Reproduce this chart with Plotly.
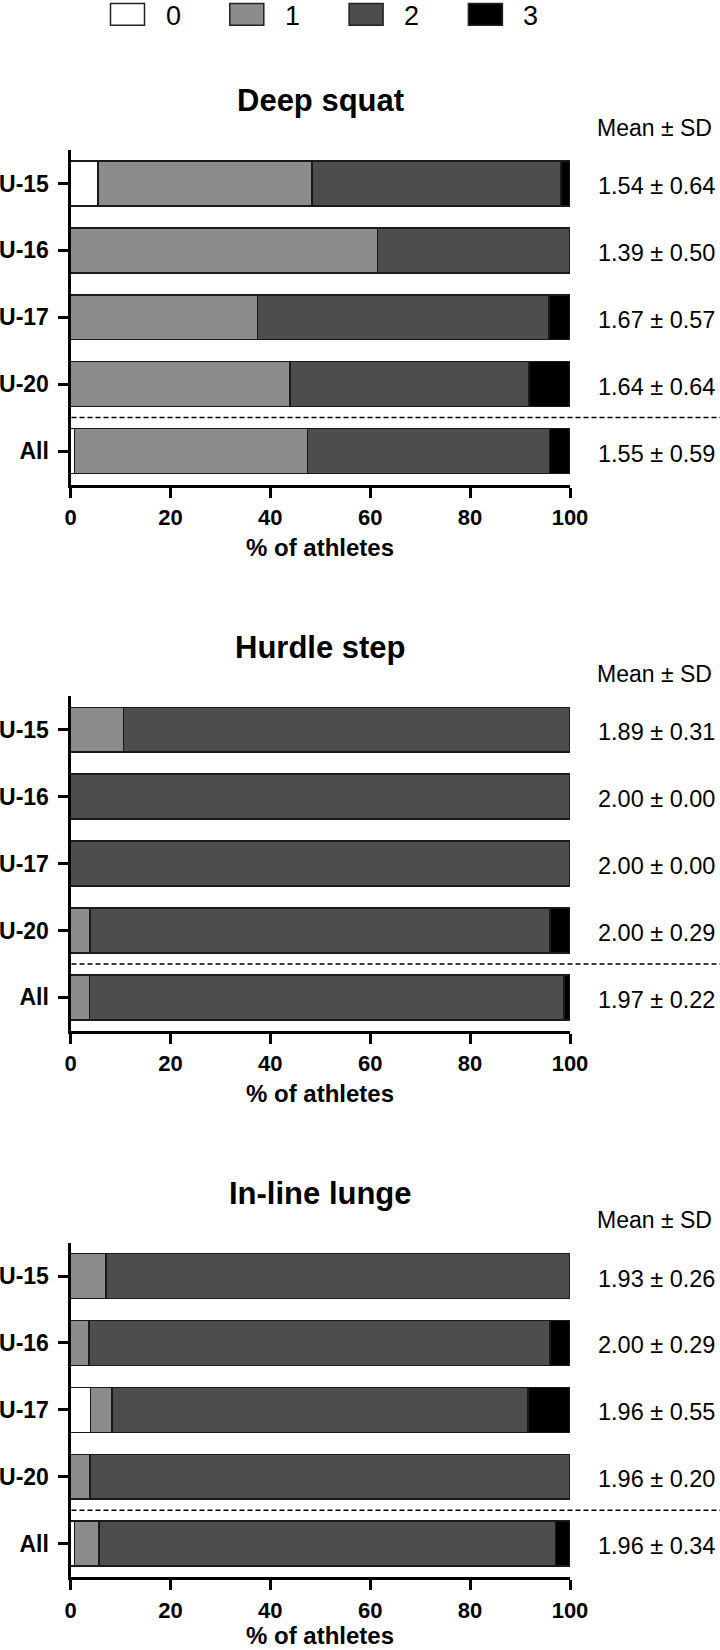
import plotly.graph_objects as go

# ---------------- data ----------------
groups = ["U-15", "U-16", "U-17", "U-20", "All"]
scores = ["0", "1", "2", "3"]
panel_titles = ["Deep squat", "Hurdle step", "In-line lunge"]

# % of athletes per score (0,1,2,3) for each group
deep_s0 = [5.5, 0, 0, 0, 0.8]
deep_s1 = [42.8, 61.5, 37.4, 43.9, 46.6]
deep_s2 = [49.9, 38.5, 58.4, 47.9, 48.5]
deep_s3 = [1.8, 0, 4.2, 8.2, 4.1]
deep_mean = [1.54, 1.39, 1.67, 1.64, 1.55]
deep_sd = [0.64, 0.50, 0.57, 0.64, 0.59]

hurdle_s0 = [0, 0, 0, 0, 0]
hurdle_s1 = [10.6, 0, 0, 3.9, 3.8]
hurdle_s2 = [89.4, 100, 100, 92.1, 95.0]
hurdle_s3 = [0, 0, 0, 4.0, 1.2]
hurdle_mean = [1.89, 2.00, 2.00, 2.00, 1.97]
hurdle_sd = [0.31, 0.00, 0.00, 0.29, 0.22]

lunge_s0 = [0, 0, 4.0, 0, 0.8]
lunge_s1 = [7.1, 3.7, 4.3, 3.9, 4.9]
lunge_s2 = [92.9, 92.3, 83.3, 96.1, 91.4]
lunge_s3 = [0, 4.0, 8.4, 0, 2.9]
lunge_mean = [1.93, 2.00, 1.96, 1.96, 1.96]
lunge_sd = [0.26, 0.29, 0.55, 0.20, 0.34]

x_ticks = [0, 20, 40, 60, 80, 100]

# ---------------- style ----------------
W, H = 720, 1650
FONT = "Liberation Sans, Arial, sans-serif"
colors = ["#ffffff", "#8c8c8c", "#4d4d4d", "#000000"]
outline = "#1a1a1a"

panels = [
    dict(title=panel_titles[0], series=[deep_s0, deep_s1, deep_s2, deep_s3], mean=deep_mean, sd=deep_sd),
    dict(title=panel_titles[1], series=[hurdle_s0, hurdle_s1, hurdle_s2, hurdle_s3], mean=hurdle_mean, sd=hurdle_sd),
    dict(title=panel_titles[2], series=[lunge_s0, lunge_s1, lunge_s2, lunge_s3], mean=lunge_mean, sd=lunge_sd),
]

PANEL_STEP = 546.3     # px between panels
AX_TOP = 150.0         # px, top of first y axis domain
AX_BOT = 484.5         # px, bottom of first y axis domain
X_LEFT, X_RIGHT = 70.5, 570.0

def py(px):
    return 1 - px / H

def pxx(px):
    return px / W

fig = go.Figure()
annotations = []
shapes = []

for i, p in enumerate(panels):
    k = "" if i == 0 else str(i + 1)
    off = i * PANEL_STEP
    xa, ya = "x" + k, "y" + k
    for s, vals in enumerate(p["series"]):
        fig.add_trace(go.Bar(
            x=[v if v > 0 else None for v in vals],
            y=groups,
            orientation="h",
            width=0.67,
            marker=dict(color=colors[s], line=dict(color=outline, width=1.5)),
            xaxis=xa, yaxis=ya,
            showlegend=False,
            name=scores[s],
            hovertemplate="%{y}: %{x:.1f}%<extra>score " + scores[s] + "</extra>",
        ))
    dom_y = [py(AX_BOT + off), py(AX_TOP + off)]
    fig.layout["xaxis" + k] = dict(
        domain=[pxx(X_LEFT), pxx(X_RIGHT)], anchor=ya, range=[0, 100],
        tickvals=x_ticks, ticks="outside", ticklen=10, tickwidth=3, tickcolor="black",
        showline=True, linewidth=3, linecolor="black", showgrid=False, zeroline=False,
        tickfont=dict(family=FONT, size=22, color="black", weight="bold"),
        ticklabelstandoff=1, automargin=False,
        fixedrange=True,
    )
    fig.layout["yaxis" + k] = dict(
        domain=dom_y, anchor=xa, type="category",
        categoryorder="array", categoryarray=groups, range=[4.5, -0.5],
        ticks="outside", ticklen=10, tickwidth=3, tickcolor="black",
        showline=True, linewidth=3, linecolor="black", showgrid=False, zeroline=False,
        tickfont=dict(family=FONT, size=23, color="black", weight="bold"),
        ticklabelstandoff=4, automargin=False,
        fixedrange=True,
    )
    # panel title
    annotations.append(dict(
        text="<b>" + p["title"] + "</b>", xref="paper", yref="paper",
        x=pxx(320), y=py(100.8 + off), xanchor="center", yanchor="middle",
        showarrow=False, font=dict(family=FONT, size=31, color="black")))
    # Mean ± SD header
    annotations.append(dict(
        text="Mean ± SD", xref="paper", yref="paper",
        x=pxx(654), y=py(127.7 + off), xanchor="center", yanchor="middle",
        showarrow=False, font=dict(family=FONT, size=23, color="black")))
    # values
    for g, m, sd in zip(groups, p["mean"], p["sd"]):
        annotations.append(dict(
            text=f"{m:.2f} ± {sd:.2f}", xref="paper", yref=ya,
            x=pxx(656), y=g, xanchor="center", yanchor="middle", yshift=-2.5,
            showarrow=False, font=dict(family=FONT, size=23.5, color="black")))
    # x-axis title (the last one sits on the bottom edge of the page)
    ty = 547.5 + off
    if ty + 14 > H:
        ann_y, ann_anchor = 0.0, "bottom"
    else:
        ann_y, ann_anchor = py(ty), "middle"
    annotations.append(dict(
        text="<b>% of athletes</b>", xref="paper", yref="paper",
        x=pxx(320), y=ann_y, xanchor="center", yanchor=ann_anchor, borderpad=0,
        showarrow=False, font=dict(family=FONT, size=24, color="black")))
    # dashed separator between U-20 and All
    shapes.append(dict(
        type="line", xref="paper", yref=ya, x0=pxx(X_LEFT + 1), x1=1.0,
        y0=3.5, y1=3.5, line=dict(color="black", width=1.5, dash="5px,3px")))

# legend (drawn manually to match the large key boxes)
LEG_X0, LEG_STEP, LEG_W, LEG_TOP, LEG_BOT = 110.5, 119.3, 34, 3.5, 25.3
for s, lab in enumerate(scores):
    x0 = LEG_X0 + s * LEG_STEP
    shapes.append(dict(
        type="rect", xref="paper", yref="paper",
        x0=pxx(x0), x1=pxx(x0 + LEG_W), y0=py(LEG_BOT), y1=py(LEG_TOP),
        fillcolor=colors[s], line=dict(color="#222222", width=1.5)))
    annotations.append(dict(
        text=lab, xref="paper", yref="paper",
        x=pxx(x0 + 53), y=py(15.7), xanchor="left", yanchor="middle",
        showarrow=False, font=dict(family=FONT, size=27, color="black")))

fig.update_layout(
    width=W, height=H, autosize=False,
    margin=dict(l=0, r=0, t=0, b=0, autoexpand=False),
    barmode="stack",
    bargap=0.33,
    paper_bgcolor="white", plot_bgcolor="white",
    annotations=annotations, shapes=shapes,
    font=dict(family=FONT, color="black"),
    showlegend=False,
)

# remove the browser's default page margin so the figure fills the window exactly
post = """
document.documentElement.style.margin='0px';
document.body.style.margin='0px';
document.documentElement.style.overflow='hidden';
document.body.style.overflow='hidden';
"""

fig.write_html(
    "out.html",
    config={"displayModeBar": False, "responsive": False},
    post_script=post,
)
